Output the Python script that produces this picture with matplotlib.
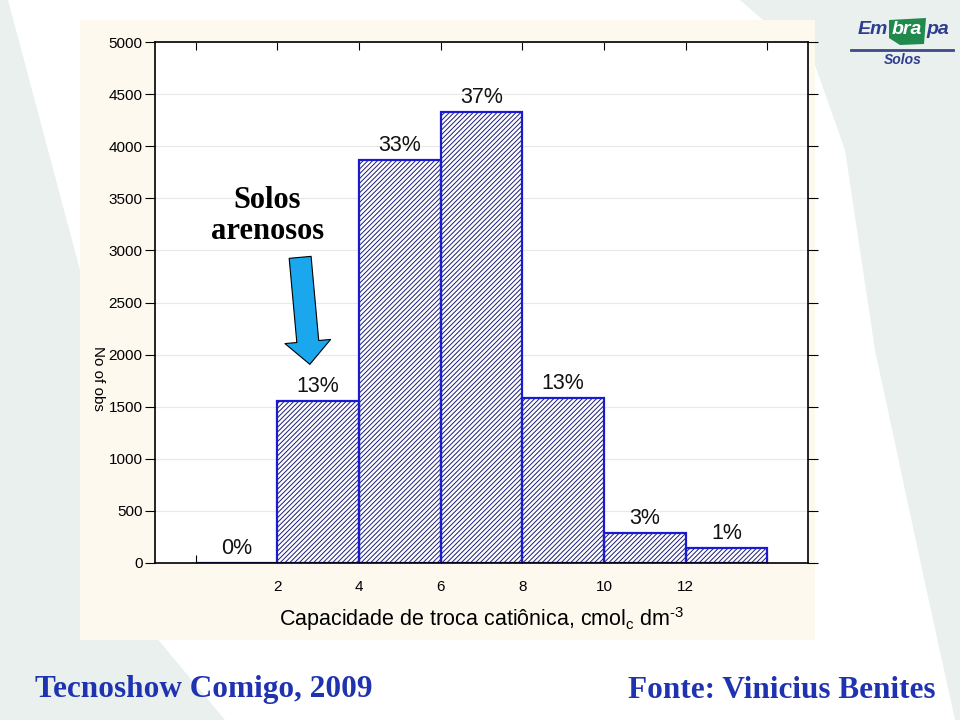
import numpy as np
import matplotlib
matplotlib.use("Agg")
import matplotlib.pyplot as plt
from matplotlib.patches import Polygon, Rectangle

plt.rcParams['font.family'] = ['Liberation Sans', 'DejaVu Sans']
plt.rcParams['hatch.linewidth'] = 0.7

# histogram classes (cmolc dm-3) and counts
bin_left = [0, 2, 4, 6, 8, 10, 12]
bin_width = 2
counts = [0, 1555, 3868, 4328, 1585, 290, 145]
pct_labels = ['0%', '13%', '33%', '37%', '13%', '3%', '1%']

xtick_pos = [0, 2, 4, 6, 8, 10, 12, 14]
xtick_lab = ['', '2', '4', '6', '8', '10', '12', '']
ytick_pos = np.arange(0, 5001, 500)

fig = plt.figure(figsize=(9.6, 7.2), dpi=100)
fig.patch.set_facecolor('white')

# slide background shapes (pixel coords -> figure fraction)
def px(pts):
    return [(x / 960, 1 - y / 720) for x, y in pts]

bg = '#e9f0ee'
fig.patches.append(Polygon(px([(0, 0), (8, 0), (80, 270), (150, 630), (225, 720), (0, 720)]),
                           closed=True, transform=fig.transFigure, fc=bg, ec='none', zorder=0))
fig.patches.append(Polygon(px([(740, 0), (815, 65), (845, 150), (875, 350), (920, 560), (955, 720),
                               (960, 720), (960, 0)]),
                           closed=True, transform=fig.transFigure, fc=bg, ec='none', zorder=0))
# cream panel
fig.patches.append(Rectangle((80 / 960, 1 - 640 / 720), 735 / 960, 620 / 720,
                             transform=fig.transFigure, fc='#fdf9ef', ec='none', zorder=0.5))

ax = fig.add_axes([155 / 960, 1 - 563 / 720, 653 / 960, 521 / 720])
ax.set_facecolor('white')
ax.set_zorder(1)

# hatched bars + blue outlines
ax.bar(bin_left, counts, width=bin_width, align='edge', color='white',
       edgecolor='#1c1c7a', hatch='///////', linewidth=0, zorder=2)
ax.bar(bin_left, counts, width=bin_width, align='edge', fill=False,
       edgecolor='#1a1ad0', linewidth=1.6, zorder=3)

for xl, c, lab in zip(bin_left, counts, pct_labels):
    ax.annotate(lab, (xl + bin_width / 2, c), xytext=(0, 3), textcoords='offset points',
                ha='center', va='bottom', fontsize=15.5, color='#111111')

ax.set_xlim(-1, 15)
ax.set_ylim(0, 5000)
ax.set_xticks(xtick_pos)
ax.set_xticklabels(xtick_lab)
ax.set_yticks(ytick_pos)
ax.tick_params(axis='y', which='both', labelsize=11, direction='out', length=7, right=True, pad=2)
ax.tick_params(axis='x', which='both', labelsize=11, direction='in', length=6, top=True, pad=12)
ax.yaxis.grid(True, color='#e8e8e8', linestyle='-', linewidth=0.8)
ax.set_axisbelow(True)
for s in ax.spines.values():
    s.set_linewidth(1.2)
    s.set_zorder(4)

ax.set_xlabel('Capacidade de troca catiônica, cmol$_\\mathregular{c}$ dm$^\\mathregular{\u20103}$',
              fontsize=15.5, labelpad=8)
ax.set_ylabel('No of obs', fontsize=11, rotation=270, va='center')
ax.yaxis.set_label_coords(-0.088, 0.355)

# annotation
ax.text(1.75, 3330, 'Solos\narenosos', ha='center', va='center', fontsize=22,
        family='Liberation Serif', weight='bold', linespacing=1.1)
ax.annotate('', xy=(2.8, 1880), xytext=(2.55, 2960),
            arrowprops=dict(arrowstyle='simple,head_length=0.75,head_width=1.5,tail_width=0.72',
                            fc='#1aa7ee', ec='black', lw=0.8, mutation_scale=22))

# logo
navy = '#2e3d8f'
fig.patches.append(Polygon(px([(889, 20), (926, 18), (924, 44), (900, 45), (889, 38)]),
                           closed=True, transform=fig.transFigure, fc='#1f8a4c', ec='none', zorder=2))
fig.text(888 / 960, 1 - 30 / 720, 'Em', ha='right', va='center', fontsize=14, style='italic',
         weight='bold', color=navy)
fig.text(907 / 960, 1 - 30 / 720, 'bra', ha='center', va='center', fontsize=14, style='italic',
         weight='bold', color='white', zorder=3)
fig.text(926 / 960, 1 - 30 / 720, 'pa', ha='left', va='center', fontsize=14, style='italic',
         weight='bold', color=navy)
fig.add_artist(plt.Line2D([851 / 960, 953 / 960], [1 - 50 / 720, 1 - 50 / 720],
                          color='#3a4a8a', lw=2, transform=fig.transFigure))
fig.text(903 / 960, 1 - 60 / 720, 'Solos', ha='center', va='center', fontsize=10, style='italic',
         weight='bold', color=navy)

# footer
blue = '#1f33b0'
fig.text(35 / 960, 1 - 690 / 720, 'Tecnoshow Comigo, 2009', ha='left', va='center', fontsize=22.5,
         family='Liberation Serif', weight='bold', color=blue)
fig.text(936 / 960, 1 - 690 / 720, 'Fonte: Vinicius Benites', ha='right', va='center', fontsize=22.5,
         family='Liberation Serif', weight='bold', color=blue)

fig.savefig('out.png', dpi=100)
